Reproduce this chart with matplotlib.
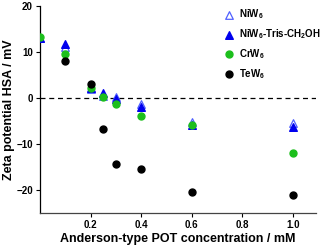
import matplotlib
matplotlib.use("Agg")
import matplotlib.pyplot as plt

plt.rcParams['font.family'] = ['Liberation Sans', 'DejaVu Sans']
plt.rcParams['font.weight'] = 'bold'
plt.rcParams['mathtext.fontset'] = 'custom'
plt.rcParams['mathtext.rm'] = 'Liberation Sans:bold'
plt.rcParams['mathtext.it'] = 'Liberation Sans:bold'
plt.rcParams['mathtext.bf'] = 'Liberation Sans:bold'
plt.rcParams['mathtext.default'] = 'rm'

x_ni = [0.0, 0.1, 0.2, 0.25, 0.3, 0.4, 0.6, 1.0]
niw6 = [13.0, 11.0, 2.0, 0.5, 0.3, -1.3, -5.2, -5.5]
x_tris = [0.0, 0.1, 0.2, 0.25, 0.3, 0.4, 0.6, 1.0]
niw6_tris = [13.0, 11.7, 2.2, 1.0, -0.3, -1.9, -5.8, -6.3]
x_cr = [0.0, 0.1, 0.2, 0.25, 0.3, 0.4, 0.6, 1.0]
crw6 = [13.2, 9.5, 2.2, 0.3, -1.2, -4.0, -5.8, -12.0]
x_te = [0.1, 0.2, 0.25, 0.3, 0.4, 0.6, 1.0]
tew6 = [8.0, 3.0, -6.8, -14.3, -15.5, -20.4, -21.0]

labels = ['NiW$_6$', 'NiW$_6$-Tris-CH$_2$OH', 'CrW$_6$', 'TeW$_6$']
xticks = [0.2, 0.4, 0.6, 0.8, 1.0]
yticks = [-20, -10, 0, 10, 20]

fig = plt.figure(figsize=(3.24, 2.48), dpi=100)
ax = fig.add_axes([0.123, 0.141, 0.852, 0.835])

ax.axhline(0, color='black', linestyle=(0, (4, 3)), linewidth=0.9, zorder=1)
ax.scatter(x_ni, niw6, marker='^', s=30, facecolors='white', edgecolors='#5060ff', linewidths=0.9, label=labels[0], zorder=3)
ax.scatter(x_tris, niw6_tris, marker='^', s=30, color='#0000ee', label=labels[1], zorder=4)
ax.scatter(x_cr, crw6, marker='o', s=25, color='#1cbf1c', label=labels[2], zorder=5)
ax.scatter(x_te, tew6, marker='o', s=25, color='black', label=labels[3], zorder=6)

ax.set_xlim(0, 1.09)
ax.set_ylim(-25, 20)
ax.set_xticks(xticks)
ax.set_xticklabels([f'{v:.1f}' for v in xticks])
ax.set_yticks(yticks)
ax.tick_params(axis='both', labelsize=7, length=3, width=0.8, pad=2)
for lab in ax.get_xticklabels() + ax.get_yticklabels():
    lab.set_fontweight('bold')
ax.spines['top'].set_visible(False)
ax.spines['right'].set_visible(False)
ax.spines['left'].set_linewidth(0.9)
ax.spines['bottom'].set_linewidth(0.9)
ax.spines['bottom'].set_color('#444444')

ax.set_xlabel('Anderson-type POT concentration / mM', fontsize=9, fontweight='bold', labelpad=2)
ax.set_ylabel('Zeta potential HSA / mV', fontsize=9, fontweight='bold', labelpad=1)

leg = ax.legend(loc='upper left', bbox_to_anchor=(0.655, 1.012), frameon=False,
                fontsize=7, handlelength=1, handletextpad=0.5, labelspacing=0.62,
                borderaxespad=0, scatterpoints=1)
for t in leg.get_texts():
    t.set_fontweight('bold')

fig.savefig('out.png', dpi=100)
